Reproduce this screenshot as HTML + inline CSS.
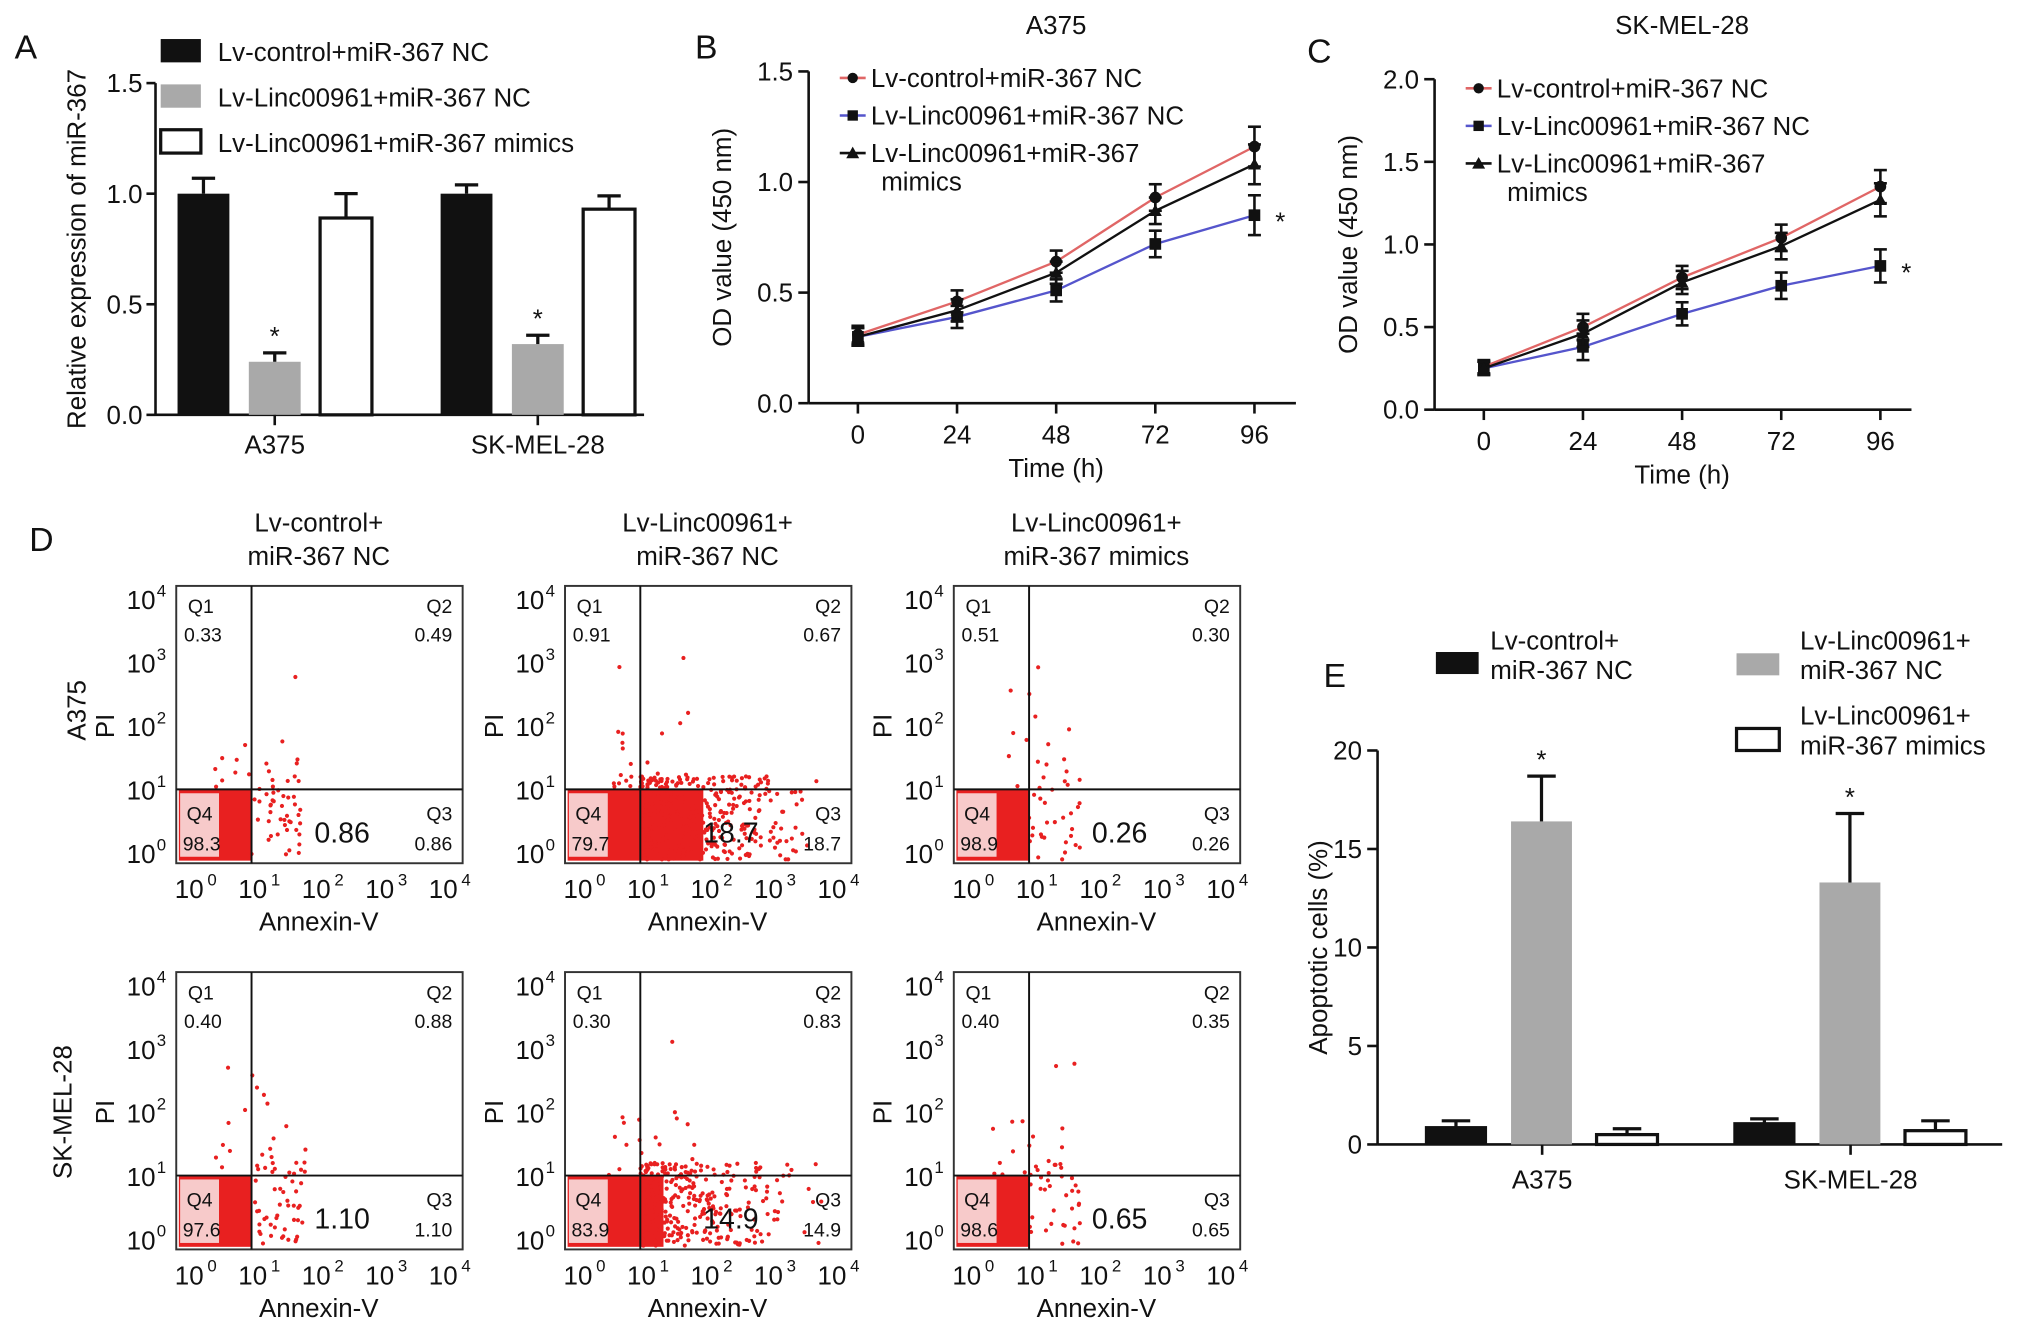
<!DOCTYPE html>
<html><head><meta charset="utf-8"><style>
html,body{margin:0;padding:0;background:#fff}
svg{display:block;font-family:"Liberation Sans",Arial,sans-serif}
</style></head><body>
<svg id="fig" xmlns="http://www.w3.org/2000/svg" width="2032" height="1339" viewBox="0 0 1568 1033"></svg>
<script>
// ---- Panel A data ----
const aGroups = ["A375", "SK-MEL-28"];
const aControl = [1.0, 1.0];
const aLincNC = [0.24, 0.32];
const aMimics = [0.89, 0.93];
const aControlErr = [0.07, 0.04];
const aLincNCErr = [0.04, 0.04];
const aMimicsErr = [0.11, 0.06];
const aTicks = [0, 0.5, 1.0, 1.5];
// ---- Panel B data ----
const timeCats = [0, 24, 48, 72, 96];
const bControl = [0.31, 0.46, 0.64, 0.93, 1.16];
const bLincNC = [0.30, 0.39, 0.51, 0.72, 0.85];
const bMimics = [0.30, 0.42, 0.59, 0.87, 1.08];
const bErr = [0.04, 0.05, 0.05, 0.06, 0.09];
const bTicks = [0, 0.5, 1.0, 1.5];
// ---- Panel C data ----
const cControl = [0.26, 0.50, 0.80, 1.04, 1.35];
const cLincNC = [0.25, 0.38, 0.58, 0.75, 0.87];
const cMimics = [0.25, 0.46, 0.77, 0.99, 1.27];
const cErr = [0.04, 0.08, 0.07, 0.08, 0.10];
const cTicks = [0, 0.5, 1.0, 1.5, 2.0];
// ---- Panel D data ----
const flowQ1 = [0.33, 0.91, 0.51, 0.40, 0.30, 0.40];
const flowQ2 = [0.49, 0.67, 0.30, 0.88, 0.83, 0.35];
const flowQ3 = [0.86, 18.7, 0.26, 1.10, 14.9, 0.65];
const flowQ4 = [98.3, 79.7, 98.9, 97.6, 83.9, 98.6];
// ---- Panel E data ----
const eGroups = ["A375", "SK-MEL-28"];
const eControl = [0.9, 1.1];
const eLincNC = [16.4, 13.3];
const eMimics = [0.5, 0.7];
const eControlErr = [0.3, 0.2];
const eLincNCErr = [2.3, 3.5];
const eMimicsErr = [0.3, 0.5];
const eTicks = [0, 5, 10, 15, 20];

const svg = document.getElementById('fig');
const NS = 'http://www.w3.org/2000/svg';
function el(tag, attrs, parent, text) {
  const e = document.createElementNS(NS, tag);
  for (const k in attrs) e.setAttribute(k, attrs[k]);
  if (text !== undefined) e.textContent = text;
  (parent || svg).appendChild(e);
  return e;
}
function grp(name) {
  const g = el('g', {});
  
  
  return g;
}
function txt(p, x, y, s, size, anchor, name, extra) {
  const t = el('text', Object.assign({x: x, y: y, 'font-size': size, 'text-anchor': anchor || 'middle', fill: '#111'}, extra || {}), p, s);
  
  
  return t;
}
function line(p, x1, y1, x2, y2, w) {
  return el('line', {x1: x1, y1: y1, x2: x2, y2: y2, stroke: '#111', 'stroke-width': w || 2}, p);
}

[['A', 20, 45], ['B', 545, 45], ['C', 1018, 48], ['D', 32, 425], ['E', 1030, 530]].forEach(l => {
  const g = grp('panel-letter-' + l[0].toLowerCase());
  txt(g, l[1], l[2], l[0], 26, 'middle', 'panel-label-' + l[0].toLowerCase());
});

// ---------- Panel A ----------
(function () {
  const g = grp('panel-a-bar-chart');
  const x0 = 120, xEnd = 497, y0 = 320, yTop = 64;
  const yS = v => y0 - (v / 1.5) * (y0 - yTop);
  line(g, x0, yTop, x0, y0); line(g, x0, y0, xEnd, y0);
  aTicks.forEach(t => {
    line(g, x0 - 7, yS(t), x0, yS(t));
    txt(g, x0 - 10, yS(t) + 7, t.toFixed(1), 20, 'end', 'y-tick-label');
  });
  txt(g, 66, 192, 'Relative expression of miR-367', 20, 'middle', 'y-axis-title', {transform: 'rotate(-90 66 192)'});
  const groupStart = [137, 340];
  const series = [[aControl, aControlErr, '#111'], [aLincNC, aLincNCErr, '#a9a9a9'], [aMimics, aMimicsErr, '#fff']];
  aGroups.forEach((gn, gi) => {
    series.forEach((s, si) => {
      const bx = groupStart[gi] + si * 55, bw = 40;
      const v = s[0][gi], e = s[1][gi];
      const r = el('rect', {x: bx, y: yS(v), width: bw, height: y0 - yS(v), fill: s[2], stroke: '#111', 'stroke-width': si === 2 ? 2.5 : 0}, g);
      
      
      line(g, bx + bw / 2, yS(v), bx + bw / 2, yS(v + e), 2.5);
      line(g, bx + bw / 2 - 9, yS(v + e), bx + bw / 2 + 9, yS(v + e), 2.5);
      if (si === 1) txt(g, bx + bw / 2, yS(v + e) - 6, '*', 20, 'middle', 'significance-star');
    });
    line(g, groupStart[gi] + 75, y0, groupStart[gi] + 75, y0 + 8);
    txt(g, groupStart[gi] + 75, y0 + 30, gn, 20, 'middle', 'x-tick-label');
  });
  const leg = [['Lv-control+miR-367 NC', '#111'], ['Lv-Linc00961+miR-367 NC', '#a9a9a9'], ['Lv-Linc00961+miR-367 mimics', '#fff']];
  leg.forEach((l, i) => {
    const ly = 30 + i * 35;
    const r = el('rect', {x: 124, y: ly, width: 31, height: 18, fill: l[1], stroke: '#111', 'stroke-width': i === 2 ? 2.5 : 0}, g);
    
    
    txt(g, 168, ly + 17, l[0], 20, 'start', 'legend-entry');
  });
})();

// ---------- Line panels B, C ----------
function linePanel(name, title, titleX, x0, xEnd, y0, yTop, yMax, ticks, xPos, data, err, legY) {
  const g = grp(name);
  const yS = v => y0 - (v / yMax) * (y0 - yTop);
  const xS = i => xPos[0] + i * (xPos[1] - xPos[0]);
  line(g, x0, yTop, x0, y0); line(g, x0, y0, xEnd, y0);
  ticks.forEach(t => {
    line(g, x0 - 8, yS(t), x0, yS(t));
    txt(g, x0 - 12, yS(t) + 7, t.toFixed(1), 20, 'end', 'y-tick-label');
  });
  timeCats.forEach((c, i) => {
    line(g, xS(i), y0, xS(i), y0 + 8);
    txt(g, xS(i), y0 + 31, String(c), 20, 'middle', 'x-tick-label');
  });
  txt(g, xS(2), y0 + 57, 'Time (h)', 20, 'middle', 'x-axis-title');
  txt(g, x0 - 60, (y0 + yTop) / 2, 'OD value (450 nm)', 20, 'middle', 'y-axis-title', {transform: 'rotate(-90 ' + (x0 - 60) + ' ' + ((y0 + yTop) / 2) + ')'});
  txt(g, titleX, 26, title, 20, 'middle', 'chart-title');
  const colors = ['#e06666', '#5555cc', '#111'];
  const markers = ['circle', 'square', 'triangle'];
  data.forEach((d, si) => {
    const pts = d.map((v, i) => xS(i) + ',' + yS(v)).join(' ');
    const pl = el('polyline', {points: pts, fill: 'none', stroke: colors[si], 'stroke-width': 1.8}, g);
    
    
    d.forEach((v, i) => {
      const x = xS(i), y = yS(v), e = err[i];
      line(g, x, yS(v - e), x, yS(v + e), 2);
      line(g, x - 5, yS(v + e), x + 5, yS(v + e), 2);
      line(g, x - 5, yS(v - e), x + 5, yS(v - e), 2);
      let m;
      if (markers[si] === 'circle') m = el('circle', {cx: x, cy: y, r: 4.5, fill: '#111'}, g);
      else if (markers[si] === 'square') m = el('rect', {x: x - 4.5, y: y - 4.5, width: 9, height: 9, fill: '#111'}, g);
      else m = el('polygon', {points: (x) + ',' + (y - 5) + ' ' + (x - 5) + ',' + (y + 4) + ' ' + (x + 5) + ',' + (y + 4), fill: '#111'}, g);
      
      
    });
  });
  txt(g, xS(4) + 20, yS(data[1][4]) + 12, '*', 20, 'middle', 'significance-star');
  const lx = x0 + 30;
  const lab = ['Lv-control+miR-367 NC', 'Lv-Linc00961+miR-367 NC', 'Lv-Linc00961+miR-367'];
  lab.forEach((l, i) => {
    const ly = legY + i * 29;
    line(g, lx - 6, ly, lx + 14, ly, 2).setAttribute('stroke', colors[i]);
    if (i === 0) el('circle', {cx: lx + 4, cy: ly, r: 4, fill: '#111'}, g);
    if (i === 1) el('rect', {x: lx, y: ly - 4, width: 8, height: 8, fill: '#111'}, g);
    if (i === 2) el('polygon', {points: (lx + 4) + ',' + (ly - 5) + ' ' + (lx - 1) + ',' + (ly + 4) + ' ' + (lx + 9) + ',' + (ly + 4), fill: '#111'}, g);
    txt(g, lx + 18, ly + 7, l, 20, 'start', 'legend-entry');
  });
  txt(g, lx + 26, legY + 87, 'mimics', 20, 'start', 'legend-entry');
}
linePanel('panel-b-line-chart', 'A375', 815, 624, 1000, 311, 55, 1.5, bTicks, [662, 738.5], [bControl, bLincNC, bMimics], bErr, 60);
linePanel('panel-c-line-chart', 'SK-MEL-28', 1298, 1107, 1475, 316, 61, 2.0, cTicks, [1145, 1221.5], [cControl, cLincNC, cMimics], cErr, 68);

// ---------- Panel D flow cytometry ----------
(function () {
  const g = grp('panel-d-flow-plots');
  const lefts = [136, 436, 736];
  const tops = [452, 750];
  const titles = [['Lv-control+', 'miR-367 NC'], ['Lv-Linc00961+', 'miR-367 NC'], ['Lv-Linc00961+', 'miR-367 mimics']];
  titles.forEach((t, i) => {
    txt(g, lefts[i] + 110, 410, t[0], 20, 'middle', 'column-title');
    txt(g, lefts[i] + 110, 436, t[1], 20, 'middle', 'column-title');
  });
  txt(g, 66, 548, 'A375', 20, 'middle', 'row-label', {transform: 'rotate(-90 66 548)'});
  txt(g, 55, 858, 'SK-MEL-28', 20, 'middle', 'row-label', {transform: 'rotate(-90 55 858)'});
  let seed = 7;
  const rnd = () => { seed = (seed * 16807) % 2147483647; return seed / 2147483647; };
  for (let k = 0; k < 6; k++) {
    const L = lefts[k % 3], T = tops[Math.floor(k / 3)], W = 221, H = 214, B = T + H;
    const xl = v => L + 14 + v * 49, yl = v => B - 8 - v * 49;
    const gx = xl(0.9), gy = yl(1);
    const box = el('rect', {x: L, y: T, width: W, height: H, fill: '#fff', stroke: '#333', 'stroke-width': 1.5}, g);
    
    
    const big = flowQ3[k] > 5;
    const blobW = big ? (k === 1 ? flowQ3[k] * 2.6 : flowQ3[k] * 1.2) : 0;
    el('rect', {x: L + 2, y: gy, width: gx - L - 2 + blobW, height: B - gy - 2, fill: '#e82020'}, g);
    const nScatter = Math.round(20 + flowQ3[k] * 22);
    for (let i = 0; i < nScatter; i++) {
      const x = gx + (big ? rnd() * rnd() * 150 : rnd() * 40);
      const y = gy - 10 + rnd() * (B - gy + 8);
      el('circle', {cx: Math.min(x, L + W - 3), cy: Math.min(y, B - 3), r: 1.6, fill: '#e82020'}, g);
    }
    const nUp = Math.round(8 + (flowQ1[k] + flowQ2[k]) * 12);
    for (let i = 0; i < nUp; i++) {
      const x = L + 30 + rnd() * 70, y = gy - rnd() * rnd() * 110;
      el('circle', {cx: x, cy: y, r: 1.6, fill: '#e82020'}, g);
    }
    el('rect', {x: L + 3, y: gy + 3, width: 30, height: B - gy - 8, fill: '#f7caca'}, g);
    line(g, gx, T, gx, B, 1.5); line(g, L, gy, L + W, gy, 1.5);
    txt(g, L + 9, T + 21, 'Q1', 15, 'start', 'quadrant-label');
    txt(g, L + 6, T + 43, flowQ1[k].toFixed(2), 15, 'start', 'quadrant-value');
    txt(g, L + W - 8, T + 21, 'Q2', 15, 'end', 'quadrant-label');
    txt(g, L + W - 8, T + 43, flowQ2[k].toFixed(2), 15, 'end', 'quadrant-value');
    txt(g, L + W - 8, B - 33, 'Q3', 15, 'end', 'quadrant-label');
    const q3s = flowQ3[k] >= 10 ? flowQ3[k].toFixed(1) : flowQ3[k].toFixed(2);
    txt(g, L + W - 8, B - 10, q3s, 15, 'end', 'quadrant-value');
    txt(g, L + 128, B - 16, q3s, 22, 'middle', 'apoptosis-value');
    txt(g, L + 8, B - 33, 'Q4', 15, 'start', 'quadrant-label');
    txt(g, L + 5, B - 10, flowQ4[k].toFixed(1), 15, 'start', 'quadrant-value');
    for (let d = 0; d <= 4; d++) {
      txt(g, xl(d) - 4, B + 27, '10', 20, 'middle', 'x-tick-label');
      txt(g, xl(d) + 10, B + 17, String(d), 13, 'start', 'x-tick-exp');
      txt(g, L - 16, yl(d) + 8, '10', 20, 'end', 'y-tick-label');
      txt(g, L - 15, yl(d) - 2, String(d), 13, 'start', 'y-tick-exp');
    }
    txt(g, L + 110, B + 52, 'Annexin-V', 20, 'middle', 'x-axis-title');
    txt(g, L - 48, yl(2), 'PI', 20, 'middle', 'y-axis-title', {transform: 'rotate(-90 ' + (L - 48) + ' ' + yl(2) + ')'});
  }
})();

// ---------- Panel E ----------
(function () {
  const g = grp('panel-e-bar-chart');
  const x0 = 1063, xEnd = 1545, y0 = 883, yTop = 579;
  const yS = v => y0 - (v / 20) * (y0 - yTop);
  line(g, x0, yTop, x0, y0); line(g, x0, y0, xEnd, y0);
  eTicks.forEach(t => {
    line(g, x0 - 8, yS(t), x0, yS(t));
    txt(g, x0 - 12, yS(t) + 7, String(t), 20, 'end', 'y-tick-label');
  });
  txt(g, 1024, 731, 'Apoptotic cells (%)', 20, 'middle', 'y-axis-title', {transform: 'rotate(-90 1024 731)'});
  const gs = [1100, 1338];
  const series = [[eControl, eControlErr, '#111'], [eLincNC, eLincNCErr, '#a9a9a9'], [eMimics, eMimicsErr, '#fff']];
  eGroups.forEach((gn, gi) => {
    series.forEach((s, si) => {
      const bx = gs[gi] + si * 66, bw = 47;
      const v = s[0][gi], e = s[1][gi];
      const r = el('rect', {x: bx, y: yS(v), width: bw, height: y0 - yS(v), fill: s[2], stroke: '#111', 'stroke-width': si === 2 ? 2.5 : (si === 0 ? 1 : 0)}, g);
      
      
      line(g, bx + bw / 2, yS(v), bx + bw / 2, yS(v + e), 2.5);
      line(g, bx + bw / 2 - 11, yS(v + e), bx + bw / 2 + 11, yS(v + e), 2.5);
      if (si === 1) txt(g, bx + bw / 2, yS(v + e) - 6, '*', 20, 'middle', 'significance-star');
    });
    line(g, gs[gi] + 90, y0, gs[gi] + 90, y0 + 8);
    txt(g, gs[gi] + 90, y0 + 34, gn, 20, 'middle', 'x-tick-label');
  });
  const lg = [[1108, 503, '#111', 'Lv-control+', 'miR-367 NC', 1150, 504], [1340, 504, '#a9a9a9', 'Lv-Linc00961+', 'miR-367 NC', 1389, 504], [1340, 562, '#fff', 'Lv-Linc00961+', 'miR-367 mimics', 1389, 562]];
  lg.forEach((l, i) => {
    const r = el('rect', {x: l[0], y: l[1], width: 33, height: 17, fill: l[2], stroke: '#111', 'stroke-width': i === 2 ? 2.5 : 0}, g);
    
    
    txt(g, l[5], l[6] - 3, l[3], 20, 'start', 'legend-entry');
    txt(g, l[5], l[6] + 20, l[4], 20, 'start', 'legend-entry');
  });
})();
</script>
</body></html>
